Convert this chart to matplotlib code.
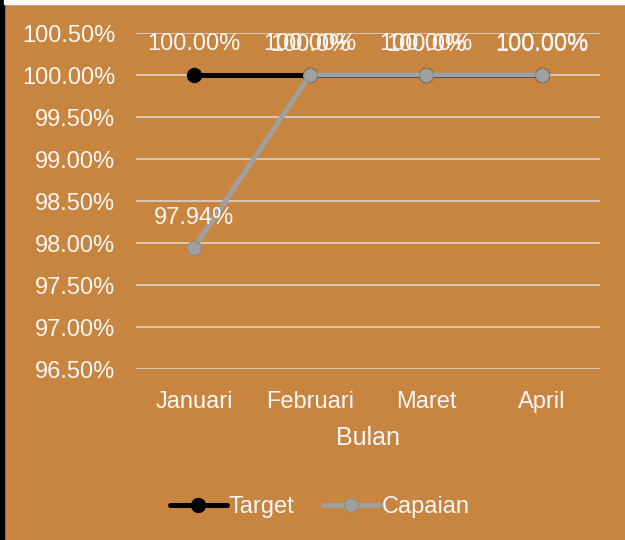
import matplotlib
matplotlib.use("Agg")
import matplotlib.pyplot as plt
from matplotlib.patches import Rectangle
from matplotlib.ticker import FuncFormatter, MultipleLocator

# ---- data ----
bulan = ["Januari", "Februari", "Maret", "April"]
target = [100.00, 100.00, 100.00, 100.00]
capaian = [97.94, 100.00, 100.00, 100.00]
target_labels = ["100.00%", "100.00%", "100.00%", "100.00%"]
capaian_labels = ["97.94%", "100.0%", "100.0%", "100.00%"]

BG = "#C8853F"
TXT = "#F7F7F7"
GRID = "#D9D9D9"

plt.rcParams["font.family"] = ["Liberation Sans", "DejaVu Sans"]

fig = plt.figure(figsize=(6.25, 5.4), dpi=100, facecolor=BG)
ax = fig.add_axes([136 / 625, 1 - 369 / 540, 464 / 625, 336 / 540])
ax.set_facecolor(BG)

# left black strip + top white strip like the screenshot
fig.patches.append(Rectangle((0, 0), 4 / 625, 1, transform=fig.transFigure,
                             color="black", zorder=0))
fig.patches.append(Rectangle((4 / 625, 1 - 4 / 540), 1, 4 / 540, transform=fig.transFigure,
                             color="white", zorder=0))

x = [i + 0.5 for i in range(len(bulan))]

ax.plot(x, target, color="black", lw=3.6, marker="o", ms=10, mfc="black", mec="black",
        label="Target", zorder=3, solid_capstyle="round")
ax.plot(x, capaian, color="#A0A0A0", lw=3.6, marker="o", ms=10, mfc="#A0A0A0", mec="#8C8C8C",
        mew=0.8, label="Capaian", zorder=4, solid_capstyle="round")

# data labels (Excel-style, they overlap where both series sit at 100%)
for xi, v, s in zip(x, target, target_labels):
    ax.annotate(s, (xi, v), xytext=(0, 22), textcoords="offset points",
                ha="center", va="center", color=TXT, fontsize=17, zorder=5)
for xi, v, s in zip(x, capaian, capaian_labels):
    ax.annotate(s, (xi, v), xytext=(0, 21.5), textcoords="offset points",
                ha="center", va="center", color=TXT, fontsize=17, zorder=5)

ax.set_xlim(0, len(bulan))
ax.set_ylim(96.5, 100.5)
ax.yaxis.set_major_locator(MultipleLocator(0.5))
ax.yaxis.set_major_formatter(FuncFormatter(lambda v, _: f"{v:.2f}%"))
ax.set_xticks(x)
ax.set_xticklabels(bulan)

ax.grid(axis="y", color=GRID, lw=1.1)
ax.set_axisbelow(True)
for sp in ax.spines.values():
    sp.set_visible(False)
ax.tick_params(axis="both", length=0, colors=TXT, labelsize=17)
ax.tick_params(axis="y", pad=15)
ax.tick_params(axis="x", pad=15.5)

ax.set_xlabel("Bulan", color=TXT, fontsize=18, labelpad=10)

fig.legend(loc="center", bbox_to_anchor=(0.512, 1 - 507 / 540), ncol=2, frameon=False,
           fontsize=17, labelcolor=TXT, handlelength=2.4, handletextpad=0.1,
           columnspacing=1.2)

fig.savefig("out.png", dpi=100, facecolor=BG)
